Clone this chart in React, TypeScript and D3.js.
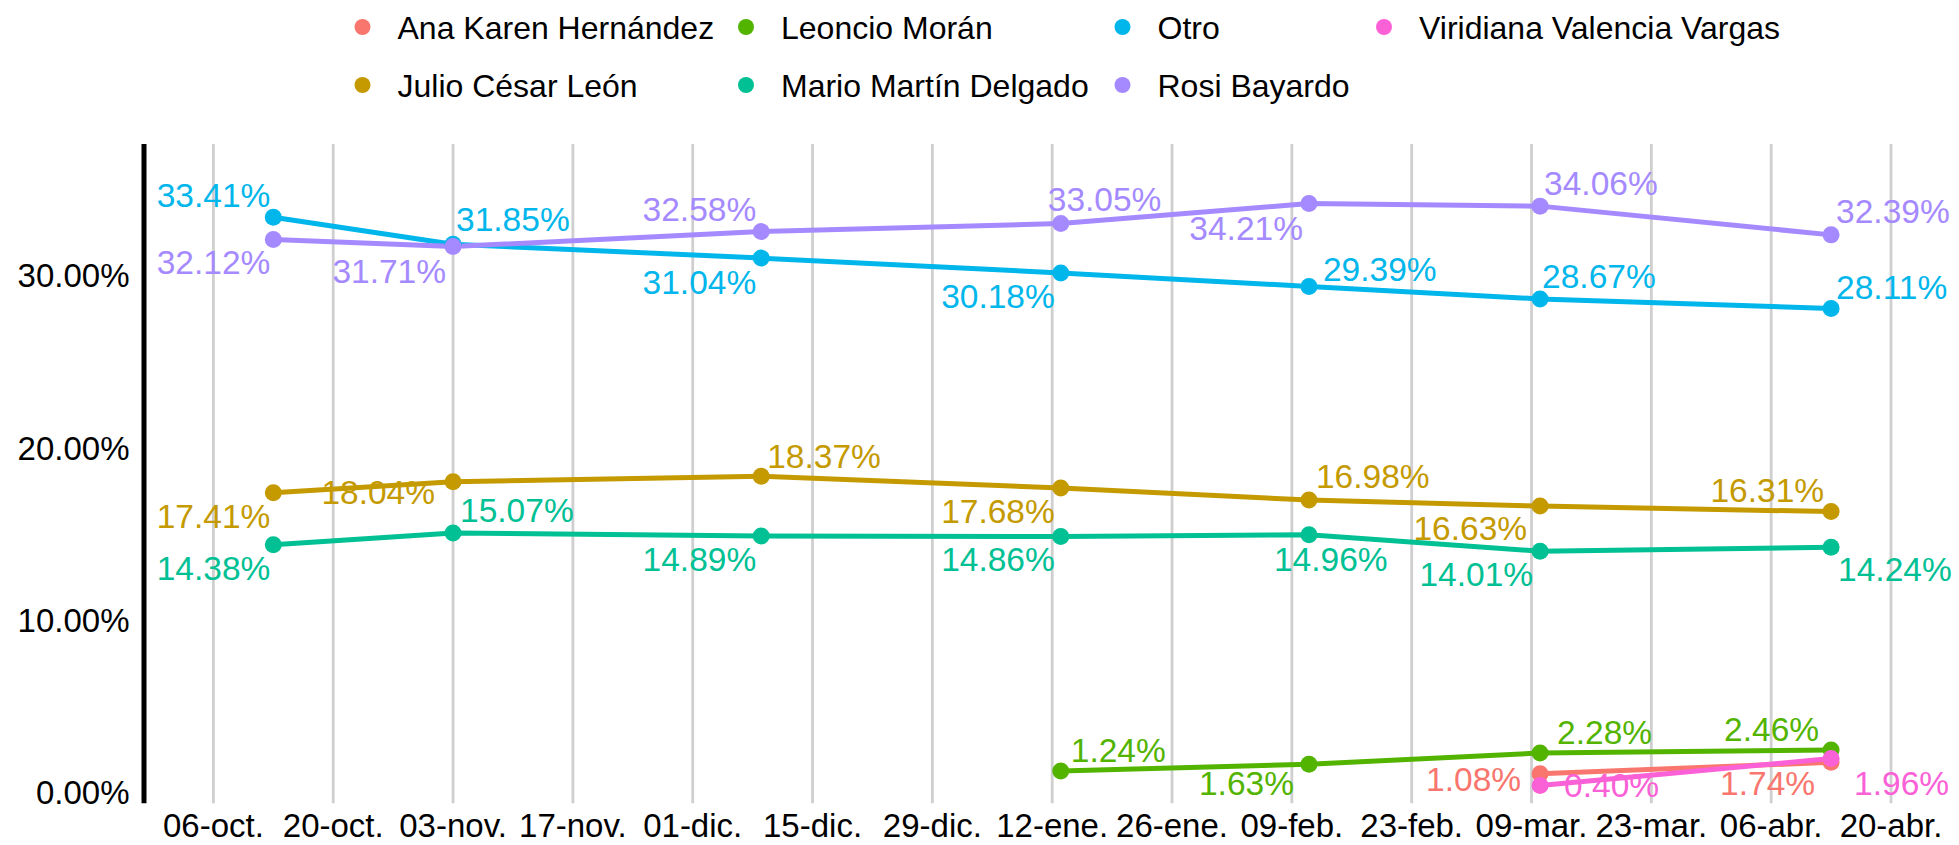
import React from "react";
import * as d3 from "d3";

// ---- data ----
const surveyDates = ["2020-10-13", "2020-11-03", "2020-12-09", "2021-01-13", "2021-02-11", "2021-03-10", "2021-04-13"];

const anaKaren = [null, null, null, null, null, 1.08, 1.74];
const julioCesar = [17.41, 18.04, 18.37, 17.68, 16.98, 16.63, 16.31];
const leoncio = [null, null, null, 1.24, 1.63, 2.28, 2.46];
const marioMartin = [14.38, 15.07, 14.89, 14.86, 14.96, 14.01, 14.24];
const otro = [33.41, 31.85, 31.04, 30.18, 29.39, 28.67, 28.11];
const rosi = [32.12, 31.71, 32.58, 33.05, 34.21, 34.06, 32.39];
const viridiana = [null, null, null, null, null, 0.4, 1.96];

const seriesNames = [
  "Ana Karen Hernández",
  "Julio César León",
  "Leoncio Morán",
  "Mario Martín Delgado",
  "Otro",
  "Rosi Bayardo",
  "Viridiana Valencia Vargas",
];
const seriesValues = [anaKaren, julioCesar, leoncio, marioMartin, otro, rosi, viridiana];
const seriesColors = ["#F8766D", "#C49A00", "#53B400", "#00C094", "#00B6EB", "#A58AFF", "#FB61D7"];

const tickDates = [
  "2020-10-06", "2020-10-20", "2020-11-03", "2020-11-17", "2020-12-01", "2020-12-15", "2020-12-29",
  "2021-01-12", "2021-01-26", "2021-02-09", "2021-02-23", "2021-03-09", "2021-03-23", "2021-04-06", "2021-04-20",
];
const tickLabels = [
  "06-oct.", "20-oct.", "03-nov.", "17-nov.", "01-dic.", "15-dic.", "29-dic.",
  "12-ene.", "26-ene.", "09-feb.", "23-feb.", "09-mar.", "23-mar.", "06-abr.", "20-abr.",
];
const yTicks = [0, 10, 20, 30];

// label placement (dx, dy of text anchor relative to point, anchor)
type Place = [number, number, "start" | "end"];
const labelPlacement: (Place | null)[][] = [
  [null, null, null, null, null, [-19, 17, "end"], [-16, 33, "end"]],
  [[-3, 35, "end"], [-18, 22, "end"], [6, -8, "start"], [-6, 35, "end"], [7, -12, "start"], [-13, 34, "end"], [-7, -10, "end"]],
  [null, null, null, [10, -9, "start"], [-15, 31, "end"], [17, -9, "start"], [-12, -9, "end"]],
  [[-3, 35, "end"], [7, -11, "start"], [-5, 35, "end"], [-6, 34, "end"], [-35, 36, "start"], [-7, 35, "end"], [7, 34, "start"]],
  [[-3, -10, "end"], [3, -13, "start"], [-5, 36, "end"], [-6, 35, "end"], [14, -5, "start"], [2, -11, "start"], [5, -10, "start"]],
  [[-3, 34, "end"], [-7, 36, "end"], [-5, -11, "end"], [-13, -13, "start"], [-6, 36, "end"], [4, -11, "start"], [5, -12, "start"]],
  [null, null, null, null, null, [24, 12, "start"], [23, 36, "start"]],
];

// legend layout (column-major, 2 rows)
const legendCols = [362.5, 746, 1122.5, 1384];
const legendRows = [27, 85];

const W = 1959;
const H = 845;
const FONT = "'Liberation Sans', Arial, Helvetica, sans-serif";

export default function App() {
  const parse = (s: string) => new Date(s + "T00:00:00Z");
  const x = d3
    .scaleUtc()
    .domain([parse(tickDates[0]), parse(tickDates[tickDates.length - 1])])
    .range([213.4, 1891]);
  const y = d3.scaleLinear().domain([-0.64, 37.67]).range([803.3, 144]);

  const panelTop = 144;
  const panelBottom = 803.3;
  const axisX = 144;

  const dates = surveyDates.map(parse);
  const line = d3
    .line<number | null>()
    .defined((d) => d != null)
    .x((_, i) => x(dates[i]))
    .y((d) => y(d as number));

  const fmt = (v: number) => v.toFixed(2) + "%";

  return (
    <div style={{ position: "absolute", left: 0, top: 0 }}>
      <svg width={W} height={H} style={{ display: "block", background: "#fff", fontFamily: FONT }}>
        {/* gridlines */}
        {tickDates.map((t, i) => (
          <line
            key={"g" + i}
            x1={x(parse(t))}
            x2={x(parse(t))}
            y1={panelTop}
            y2={panelBottom}
            stroke="#cfcfcf"
            strokeWidth={2.8}
          />
        ))}
        {/* y axis */}
        <line x1={axisX} x2={axisX} y1={panelTop} y2={panelBottom} stroke="#000" strokeWidth={5} />
        {yTicks.map((t) => (
          <text key={"y" + t} x={129.5} y={y(t) + 11.5} textAnchor="end" fontSize={33} fill="#000">
            {t.toFixed(2) + "%"}
          </text>
        ))}
        {/* x labels */}
        {tickDates.map((t, i) => (
          <text key={"x" + i} x={x(parse(t))} y={837} textAnchor="middle" fontSize={33} fill="#000">
            {tickLabels[i]}
          </text>
        ))}
        {/* lines */}
        {seriesValues.map((vals, si) => (
          <path
            key={"l" + si}
            d={line(vals) || ""}
            fill="none"
            stroke={seriesColors[si]}
            strokeWidth={5}
            strokeLinejoin="round"
            strokeLinecap="round"
          />
        ))}
        {/* points */}
        {seriesValues.map((vals, si) =>
          vals.map((v, i) =>
            v == null ? null : (
              <circle key={"p" + si + "-" + i} cx={x(dates[i])} cy={y(v)} r={8.5} fill={seriesColors[si]} />
            )
          )
        )}
        {/* labels */}
        {seriesValues.map((vals, si) =>
          vals.map((v, i) => {
            if (v == null) return null;
            const pl = labelPlacement[si][i] || [5, -10, "start"];
            return (
              <text
                key={"t" + si + "-" + i}
                x={x(dates[i]) + pl[0]}
                y={y(v) + pl[1]}
                textAnchor={pl[2]}
                fontSize={33.5}
                fill={seriesColors[si]}
              >
                {fmt(v)}
              </text>
            );
          })
        )}
        {/* legend */}
        {seriesNames.map((name, i) => {
          const col = Math.floor(i / 2);
          const row = i % 2;
          const cx = legendCols[col];
          const cy = legendRows[row];
          return (
            <g key={"lg" + i}>
              <circle cx={cx} cy={cy} r={8} fill={seriesColors[i]} />
              <text x={cx + 35} y={cy + 11.5} fontSize={32} fill="#000">
                {name}
              </text>
            </g>
          );
        })}
      </svg>
    </div>
  );
}
